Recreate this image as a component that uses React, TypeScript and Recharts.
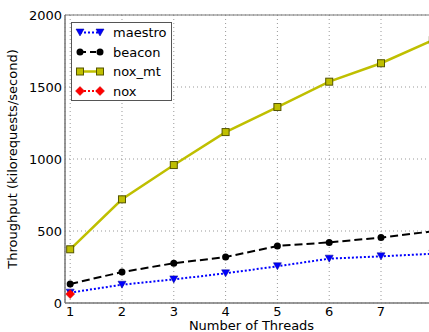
import React from 'react';
import { LineChart, Line, XAxis, YAxis, CartesianGrid, Legend, ReferenceArea } from 'recharts';

const threads = [1, 2, 3, 4, 5, 6, 7, 8];
const maestro = [72, 127, 164, 206, 255, 308, 324, 342];
const beacon = [132, 215, 276, 319, 396, 421, 454, 498];
const noxMt = [373, 720, 958, 1187, 1361, 1537, 1665, 1825];
const nox = [62];

const yTicks = [0, 500, 1000, 1500, 2000];

const data = threads.map((t, i) => ({
    threads: t,
    maestro: maestro[i],
    beacon: beacon[i],
    noxMt: noxMt[i],
    nox: nox[i] ?? null,
}));

const font = '"DejaVu Sans", sans-serif';

const TriDown = (p: any) => {
    if (p.cx == null || p.cy == null) return <g key={p.index} />;
    const { cx, cy } = p;
    return (
        <path key={p.index} d={`M${cx - 4},${cy - 3.5} L${cx + 4},${cy - 3.5} L${cx},${cy + 3.5} Z`}
            fill="#0000ff" stroke="#00008b" strokeWidth={0.5} />
    );
};

const Circle = (p: any) => {
    if (p.cx == null || p.cy == null) return <g key={p.index} />;
    return <circle key={p.index} cx={p.cx} cy={p.cy} r={3.5} fill="#000" />;
};

const Square = (p: any) => {
    if (p.cx == null || p.cy == null) return <g key={p.index} />;
    return <rect key={p.index} x={p.cx - 3.5} y={p.cy - 3.5} width={7} height={7} fill="#bfbf00" stroke="#555500" strokeWidth={1} />;
};

const Diamond = (p: any) => {
    if (p.cx == null || p.cy == null) return <g key={p.index} />;
    const { cx, cy } = p;
    return <path key={p.index} d={`M${cx},${cy - 4.5} L${cx + 4.5},${cy} L${cx},${cy + 4.5} L${cx - 4.5},${cy} Z`} fill="#ff0000" stroke="#cc0000" strokeWidth={0.5} />;
};

const legendRows = [
    { name: 'maestro', color: '#0000ff', dash: '2 2', width: 2, Marker: TriDown },
    { name: 'beacon', color: '#000', dash: '6 4', width: 2, Marker: Circle },
    { name: 'nox_mt', color: '#bfbf00', dash: undefined, width: 2.5, Marker: Square },
    { name: 'nox', color: '#ff0000', dash: '2 2', width: 2, Marker: Diamond },
];

const LegendBox = () => (
    <svg width={101} height={79} style={{ display: 'block' }}>
        <rect x={0.5} y={0.5} width={100} height={78} fill="#fff" stroke="#555" />
        {legendRows.map((r, i) => {
            const y = 10.5 + i * 19.5;
            return (
                <g key={r.name}>
                    <line x1={9} x2={29} y1={y} y2={y} stroke={r.color} strokeWidth={r.width} strokeDasharray={r.dash} />
                    {r.Marker({ cx: 9, cy: y, index: 'a' })}
                    {r.Marker({ cx: 29, cy: y, index: 'b' })}
                    <text x={42} y={y + 4.5} fontSize={13} fontFamily={font} fill="#000">{r.name}</text>
                </g>
            );
        })}
    </svg>
);

export default function App() {
    return (
        <div style={{ width: 429, height: 332, overflow: 'hidden', background: '#fff' }}>
            <style>{'body { margin: 0; }'}</style>
            <LineChart width={446} height={332} data={data} margin={{ top: 15, right: 8, left: 0, bottom: 0 }}
                style={{ fontFamily: font }}>
                <CartesianGrid stroke="#999" strokeDasharray="1 3" />
                <XAxis dataKey="threads" type="number" domain={[0.9, 8.1]} ticks={threads} height={29}
                    allowDataOverflow stroke="#777" tickLine={false} tickSize={0} tickMargin={4}
                    tick={{ fill: '#000', fontSize: 13, fontFamily: font }}
                    label={{ value: 'Number of Threads', position: 'insideBottom', offset: 2, fill: '#000', fontSize: 13, fontFamily: font }} />
                <YAxis type="number" domain={[0, 2000]} ticks={yTicks} width={65} stroke="#777"
                    tickLine={false} tickSize={0} tickMargin={3}
                    tick={{ fill: '#000', fontSize: 13, fontFamily: font }}
                    label={{ value: 'Throughput (kilorequests/second)', angle: -90, position: 'insideLeft', offset: 12, fill: '#000', fontSize: 13, fontFamily: font, style: { textAnchor: 'middle' } }} />
                <ReferenceArea x1={0.9} x2={8.1} y1={0} y2={2000} fill="none" stroke="#777" strokeWidth={1} ifOverflow="visible" />
                <Legend layout="vertical" align="center" verticalAlign="middle"
                    wrapperStyle={{ left: 71, top: 22, width: 101, height: 79 }} content={() => <LegendBox />} />
                <Line dataKey="maestro" stroke="#0000ff" strokeWidth={2} strokeDasharray="2 2" dot={TriDown} isAnimationActive={false} />
                <Line dataKey="beacon" stroke="#000" strokeWidth={2} strokeDasharray="8 4" dot={Circle} isAnimationActive={false} />
                <Line dataKey="noxMt" stroke="#bfbf00" strokeWidth={2.5} dot={Square} isAnimationActive={false} />
                <Line dataKey="nox" stroke="#ff0000" strokeWidth={2} strokeDasharray="2 2" dot={Diamond} isAnimationActive={false} />
            </LineChart>
        </div>
    );
}
